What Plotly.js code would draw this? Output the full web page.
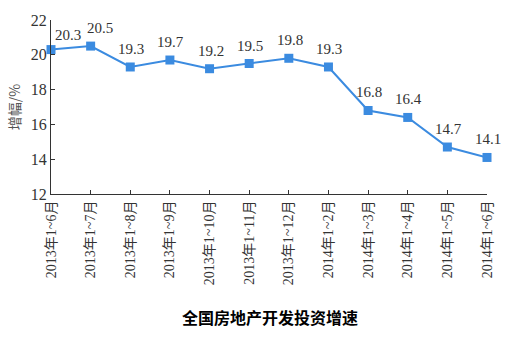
<!DOCTYPE html>
<html><head><meta charset="utf-8">
<script src="https://cdn.plot.ly/plotly-3.0.1.min.js"></script>
<style>html,body{margin:0;padding:0;background:#fff;}#c{width:513px;height:355px;}</style>
</head><body><div id="c"></div>
<script>
const periods = ["2013年1~6月","2013年1~7月","2013年1~8月","2013年1~9月","2013年1~10月","2013年1~11月","2013年1~12月","2014年1~2月","2014年1~3月","2014年1~4月","2014年1~5月","2014年1~6月"];
const growth = [20.3,20.5,19.3,19.7,19.2,19.5,19.8,19.3,16.8,16.4,14.7,14.1];
const yTicks = [12,14,16,18,20,22];

const serif = "Liberation Serif, Times New Roman, serif";
const xIdx = periods.map((_,i)=>i);
const trace = {
  x: xIdx,
  y: growth,
  mode: "lines+markers",
  line: {color: "#3b8be0", width: 2},
  marker: {symbol: "square", size: 9, color: "#3b8be0"},
  cliponaxis: false,
  hoverinfo: "skip"
};
const annotations = growth.map((v,i)=>({
  x: xIdx[i], y: v, xref: "x", yref: "y",
  text: v.toFixed(1), showarrow: false,
  xanchor: "center", yanchor: "bottom",
  xshift: i===0 ? 17 : (i===1 ? 9 : 1),
  yshift: i===0 ? 5 : 8,
  font: {family: serif, size: 15, color: "#333"}
}));
const layout = {
  width: 513, height: 355,
  margin: {l: 51, r: 26, t: 20, b: 161},
  paper_bgcolor: "#fff", plot_bgcolor: "#fff",
  showlegend: false,
  annotations: annotations,
  title: {text: "全国房地产开发投资增速", x: 270/513, xanchor: "center", y: 1-318/355, yanchor: "middle",
          font: {family: "Noto Sans CJK SC, sans-serif", size: 16, color: "#000", weight: "bold"}},
  xaxis: {
    range: [0, periods.length-1], tickmode: "array",
    tickvals: xIdx, ticktext: periods, tickangle: -90,
    ticks: "inside", ticklen: 4, tickcolor: "#333",
    showline: true, linecolor: "#333", linewidth: 1, showgrid: false, zeroline: false,
    tickfont: {family: "Liberation Serif, Noto Sans CJK SC, serif", size: 14, color: "#333"}
  },
  yaxis: {
    range: [12, 22], tickvals: yTicks, ticks: "inside", ticklen: 4, tickcolor: "#333",
    showline: true, linecolor: "#333", linewidth: 1, showgrid: false, zeroline: false,
    tickfont: {family: serif, size: 16, color: "#333"},
    title: {text: "增幅/%", font: {family: "Noto Sans CJK SC, sans-serif", size: 14, color: "#555"}, standoff: 6}
  }
};
Plotly.newPlot("c", [trace], layout, {staticPlot: true});
</script></body></html>
